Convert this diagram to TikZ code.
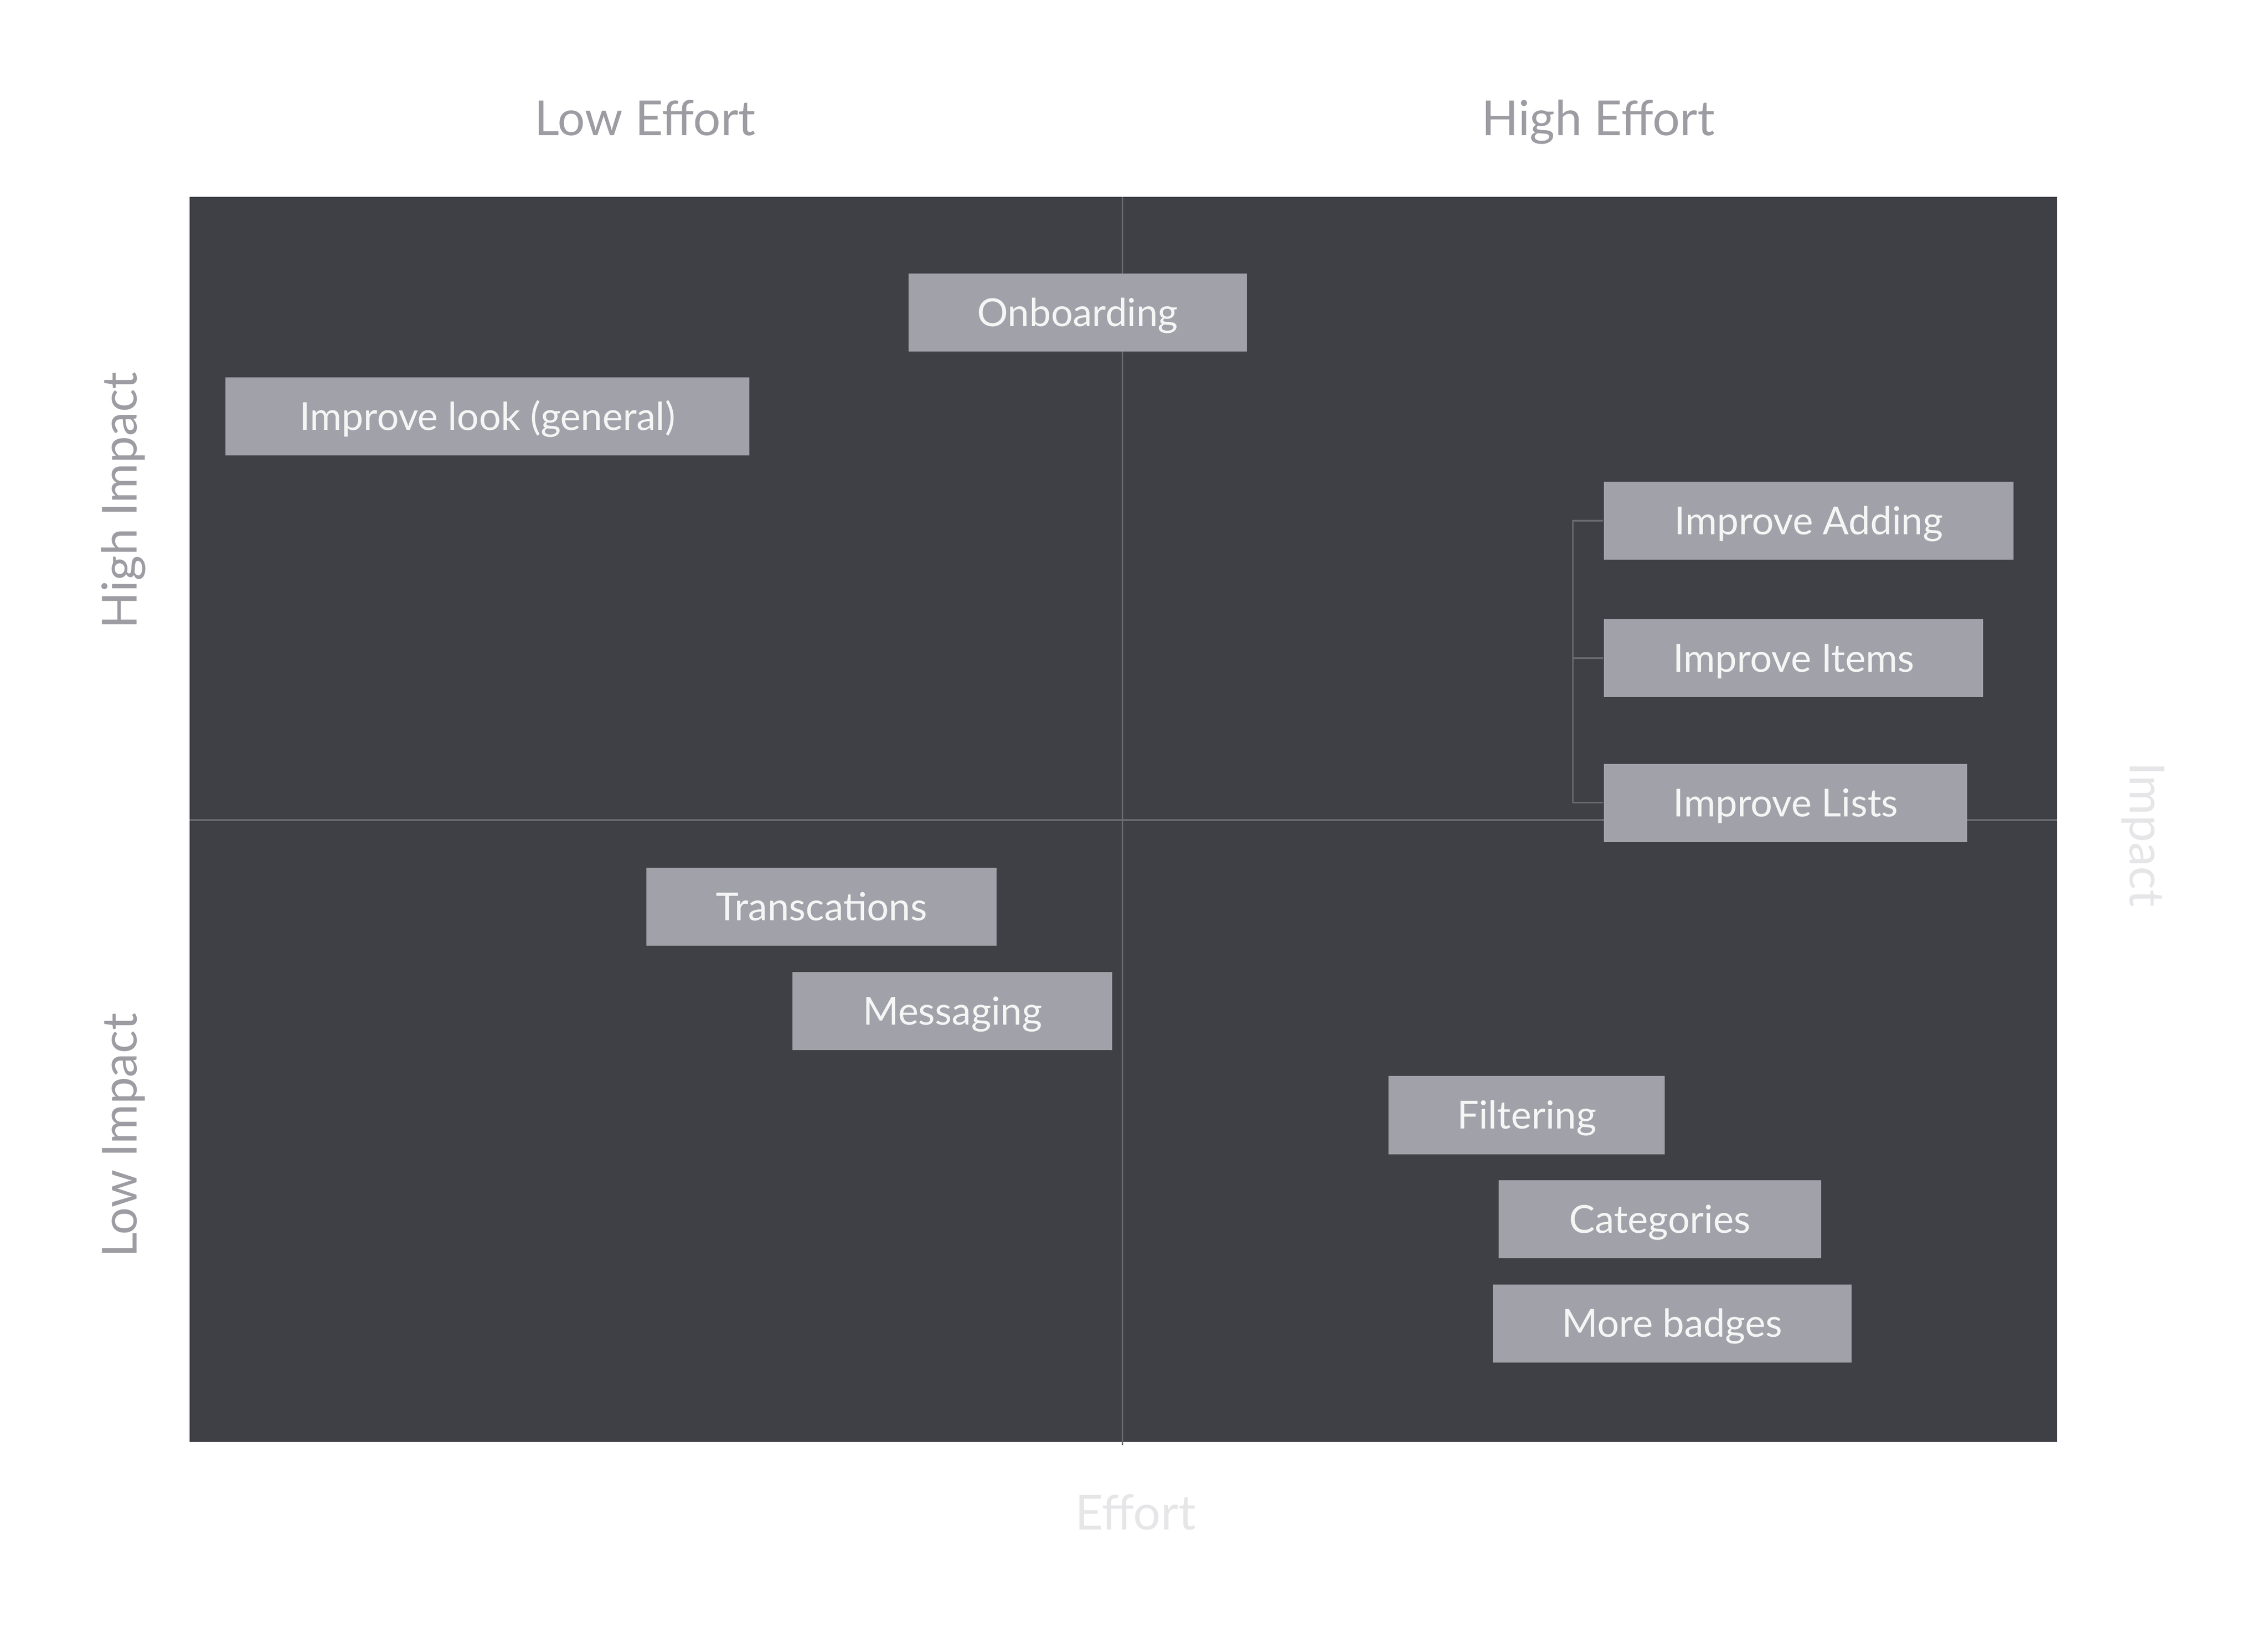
\documentclass[tikz,border=0pt]{standalone}
\usepackage{fontspec}
\setmainfont{Lato}
\definecolor{panelgray}{HTML}{3F4045}
\definecolor{itemgray}{HTML}{A1A2A9}
\definecolor{itemtext}{HTML}{F5F5F5}
\definecolor{headgray}{HTML}{9C9CA2}
\definecolor{axislight}{HTML}{E6E6E8}
\definecolor{gridgray}{HTML}{6A6B70}
\tikzset{
  item/.style={fill=itemgray, text=itemtext, inner sep=0pt, minimum height=0.54cm,
    text height=0.54em, text depth=0pt, font=\fontsize{7.6}{9}\selectfont},
  header/.style={text=headgray, inner sep=0pt, text height=0.72em, text depth=0pt,
    font=\fontsize{9.5}{11}\selectfont},
  axislabel/.style={header, text=axislight},
  gridline/.style={draw=gridgray, line width=0.3pt},
}
\begin{document}
\begin{tikzpicture}[y=-1cm]
                \useasboundingbox (0,0) rectangle (15.68,11.246);
                \fill[panelgray] (1.31,1.36) rectangle (14.22,9.97);
                \draw[gridline] (7.76,1.36) -- (7.76,9.99);
                \draw[gridline] (1.31,5.67) -- (14.22,5.67);

                \node[header] (loweff) at (4.46,0.81) {Low Effort};
                \node[header] (higheff) at (11.05,0.81) {High Effort};
                \node[header, rotate=90] (highimp) at (0.82,3.46) {High Impact};
                \node[header, rotate=90] (lowimp) at (0.82,7.85) {Low Impact};
                \node[axislabel, rotate=-90] (impact) at (14.85,5.77) {Impact};
                \node[axislabel] (effort) at (7.85,10.45) {Effort};

                \node[item, minimum width=2.34cm] (onboard) at (7.45,2.16) {Onboarding};
                \node[item, minimum width=3.62cm] (look) at (3.37,2.88) {Improve look (general)};
                \node[item, minimum width=2.83cm] (adding) at (12.505,3.60) {Improve Adding};
                \node[item, minimum width=2.62cm] (items) at (12.40,4.55) {Improve Items};
                \node[item, minimum width=2.51cm] (lists) at (12.345,5.55) {Improve Lists};
                \node[item, minimum width=2.42cm] (transc) at (5.68,6.27) {Transcations};
                \node[item, minimum width=2.21cm] (msg) at (6.585,6.99) {Messaging};
                \node[item, minimum width=1.91cm] (filter) at (10.555,7.71) {Filtering};
                \node[item, minimum width=2.23cm] (categ) at (11.475,8.43) {Categories};
                \node[item, minimum width=2.48cm] (badges) at (11.56,9.15) {More badges};

                \draw[gridline] (adding.west) -- ++(-0.21,0) |- (lists.west);
                \draw[gridline] (items.west) -- ++(-0.21,0);
\end{tikzpicture}
\end{document}
